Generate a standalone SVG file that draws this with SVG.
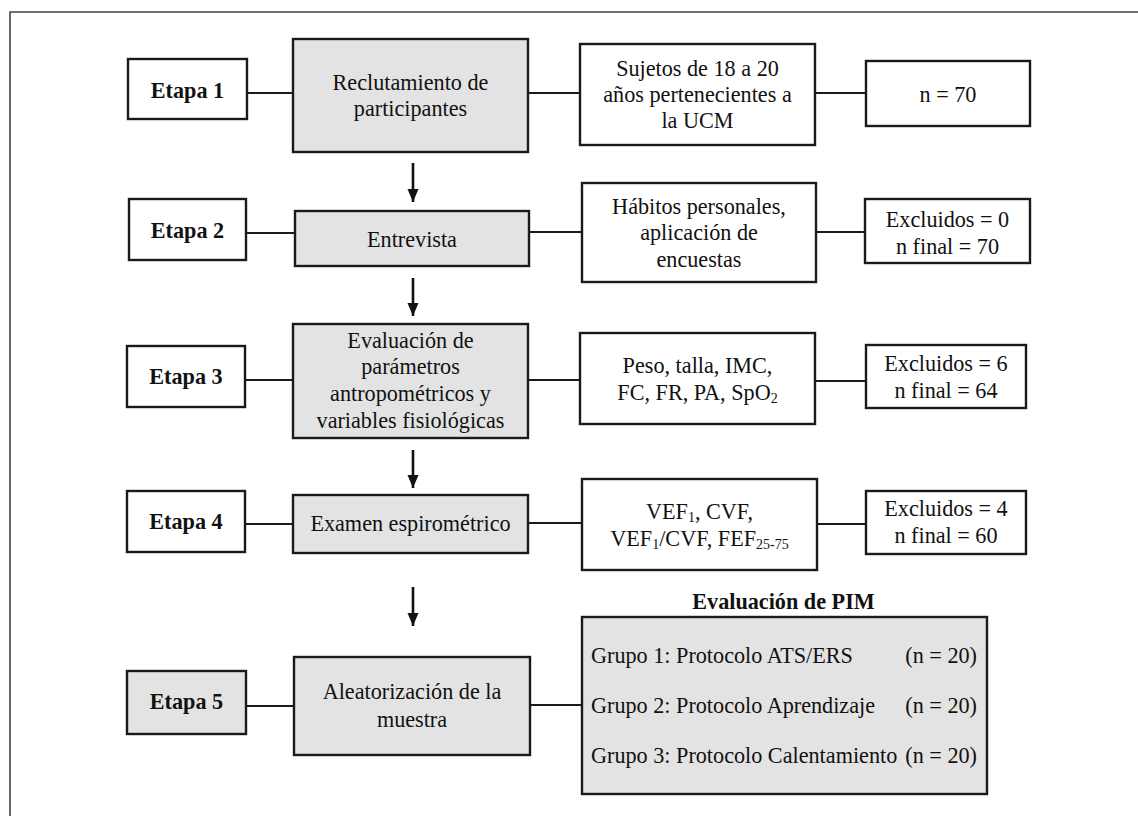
<svg xmlns="http://www.w3.org/2000/svg" width="1138" height="816" viewBox="0 0 1138 816">
<defs>
<style>
.box{fill:#ffffff;stroke:#1a1a1a;stroke-width:2.4}
.gbox{fill:#e3e3e3;stroke:#1a1a1a;stroke-width:2.4}
text{font-family:'Liberation Serif','Times New Roman',Times,serif;font-size:22.2px;fill:#111}
.t{text-anchor:middle}
.b{font-weight:bold;text-anchor:middle}
.sub{font-size:14px}
.con line{stroke:#1a1a1a;stroke-width:2.2}
.arr line{stroke:#111;stroke-width:2.6}
</style>
<marker id="ah" markerUnits="userSpaceOnUse" markerWidth="14" markerHeight="12" refX="13" refY="6" orient="auto" viewBox="0 0 14 12">
<path d="M0,0.5 L13,6 L0,11.5 Z" fill="#111"/>
</marker>
</defs>
<rect width="1138" height="816" fill="#ffffff"/>
<path d="M10,816 V12 H1138" fill="none" stroke="#444" stroke-width="1.6"/>

<g id="connectors" class="con">
<line x1="247" y1="93" x2="293" y2="93"/>
<line x1="528" y1="93" x2="580" y2="93"/>
<line x1="815" y1="93" x2="866" y2="93"/>
<line x1="246" y1="233" x2="295" y2="233"/>
<line x1="529" y1="232" x2="582" y2="232"/>
<line x1="816" y1="232" x2="865" y2="232"/>
<line x1="245" y1="380" x2="293" y2="380"/>
<line x1="528" y1="380" x2="580" y2="380"/>
<line x1="815" y1="381" x2="866" y2="381"/>
<line x1="245" y1="524" x2="293" y2="524"/>
<line x1="528" y1="523" x2="582" y2="523"/>
<line x1="817" y1="524" x2="866" y2="524"/>
<line x1="246" y1="706" x2="294" y2="706"/>
<line x1="530" y1="705" x2="582" y2="705"/>
</g>
<g id="arrows" class="arr">
<line x1="413" y1="163" x2="413" y2="202" marker-end="url(#ah)"/>
<line x1="413" y1="278" x2="413" y2="316" marker-end="url(#ah)"/>
<line x1="413" y1="450" x2="413" y2="488" marker-end="url(#ah)"/>
<line x1="413" y1="587" x2="413" y2="626" marker-end="url(#ah)"/>
</g>

<g id="etapa1"><rect class="box" x="128" y="59" width="119" height="60"/><text class="b" x="187.5" y="97.5">Etapa 1</text></g>
<g id="reclutamiento"><rect class="gbox" x="293" y="39" width="235" height="113"/><text class="t" x="410.5" y="90">Reclutamiento de</text><text class="t" x="410.5" y="116">participantes</text></g>
<g id="sujetos"><rect class="box" x="580" y="44" width="235" height="101"/><text class="t" x="697.5" y="76">Sujetos de 18 a 20</text><text class="t" x="697.5" y="102">años pertenecientes a</text><text class="t" x="697.5" y="128">la UCM</text></g>
<g id="n70"><rect class="box" x="866" y="61" width="164" height="65"/><text class="t" x="948" y="101.5">n = 70</text></g>

<g id="etapa2"><rect class="box" x="129" y="199" width="117" height="61"/><text class="b" x="187.5" y="237.5">Etapa 2</text></g>
<g id="entrevista"><rect class="gbox" x="295" y="211" width="234" height="55"/><text class="t" x="412" y="247">Entrevista</text></g>
<g id="habitos"><rect class="box" x="582" y="183" width="234" height="99"/><text class="t" x="699" y="213.5">Hábitos personales,</text><text class="t" x="699" y="240">aplicación de</text><text class="t" x="699" y="266.5">encuestas</text></g>
<g id="excl0"><rect class="box" x="865" y="199" width="165" height="64"/><text class="t" x="947.5" y="226.5">Excluidos = 0</text><text class="t" x="947.5" y="253.5">n final = 70</text></g>

<g id="etapa3"><rect class="box" x="127" y="346" width="118" height="61"/><text class="b" x="186" y="383.5">Etapa 3</text></g>
<g id="evaluacion"><rect class="gbox" x="293" y="324" width="235" height="114"/><text class="t" x="410.5" y="347.5">Evaluación de</text><text class="t" x="410.5" y="374.2">parámetros</text><text class="t" x="410.5" y="400.9">antropométricos y</text><text class="t" x="410.5" y="427.6">variables fisiológicas</text></g>
<g id="peso"><rect class="box" x="580" y="333" width="235" height="91"/><text class="t" x="697.5" y="372.5">Peso, talla, IMC,</text><text class="t" x="697.5" y="400">FC, FR, PA, SpO<tspan class="sub" dy="3">2</tspan></text></g>
<g id="excl6"><rect class="box" x="866" y="345" width="160" height="63"/><text class="t" x="946" y="370.5">Excluidos = 6</text><text class="t" x="946" y="397.5">n final = 64</text></g>

<g id="etapa4"><rect class="box" x="127" y="491" width="118" height="61"/><text class="b" x="186" y="528.5">Etapa 4</text></g>
<g id="examen"><rect class="gbox" x="293" y="495" width="235" height="58"/><text class="t" x="410.5" y="531">Examen espirométrico</text></g>
<g id="vef"><rect class="box" x="582" y="479" width="235" height="91"/><text class="t" x="699.5" y="519">VEF<tspan class="sub" dy="3">1</tspan><tspan dy="-3">, CVF,</tspan></text><text class="t" x="699.5" y="546">VEF<tspan class="sub" dy="3">1</tspan><tspan dy="-3">/CVF, FEF</tspan><tspan class="sub" dy="3">25-75</tspan></text></g>
<g id="excl4"><rect class="box" x="866" y="491" width="160" height="63"/><text class="t" x="946" y="516">Excluidos = 4</text><text class="t" x="946" y="543">n final = 60</text></g>

<g id="etapa5"><rect class="gbox" x="127" y="671" width="119" height="63"/><text class="b" x="186.5" y="709">Etapa 5</text></g>
<g id="aleatorizacion"><rect class="gbox" x="294" y="657" width="236" height="98"/><text class="t" x="412" y="699">Aleatorización de la</text><text class="t" x="412" y="727">muestra</text></g>
<g id="pim">
<text class="b" x="783.5" y="609">Evaluación de PIM</text>
<rect class="gbox" x="582" y="617" width="405" height="177"/>
<text x="591" y="663">Grupo 1: Protocolo ATS/ERS</text><text x="977" y="663" text-anchor="end">(n = 20)</text>
<text x="591" y="713">Grupo 2: Protocolo Aprendizaje</text><text x="977" y="713" text-anchor="end">(n = 20)</text>
<text x="591" y="763">Grupo 3: Protocolo Calentamiento</text><text x="977" y="763" text-anchor="end">(n = 20)</text>
</g>
</svg>
